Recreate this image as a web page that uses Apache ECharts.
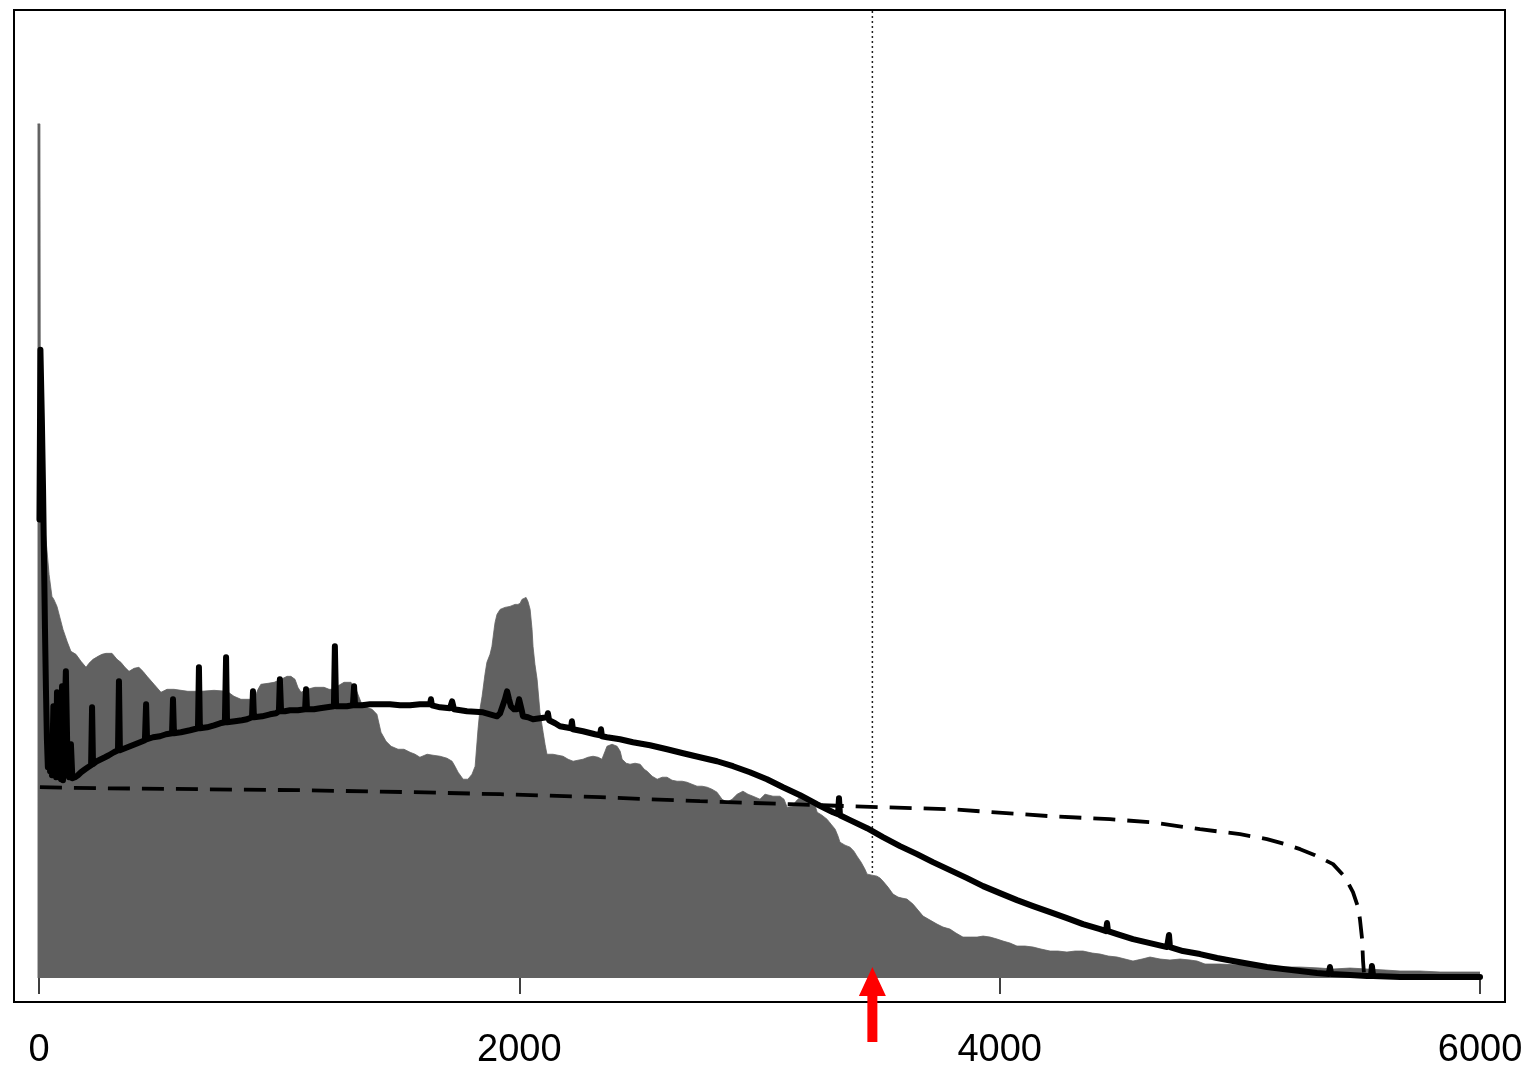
<!DOCTYPE html>
<html>
<head>
<meta charset="utf-8">
<script src="https://cdn.jsdelivr.net/npm/echarts@6/dist/echarts.min.js"></script>
<style>
html,body{margin:0;padding:0;background:#fff;}
#chart{width:1529px;height:1070px;}
</style>
</head>
<body>
<div id="chart"></div>
<script>
// x tick labels
const xTickValues = [0, 2000, 4000, 6000];
// position of the marker (dotted line + red arrow)
const markerX = 3470;

// grey filled profile [x, y]
const greyProfile = [
  [-6,855],[4,855],[6,500],[17,482],[25,449],[33,429],[42,404],[54,382],[62,379],[75,372],[87,361],
  [100,349],[117,337],[133,327],[154,324],[175,317],[196,311],[208,315],[225,319],[246,322],[262,324],
  [279,325],[304,325],[325,319],[341,316],[358,311],[375,307],[396,310],[416,311],[433,307],[450,302],
  [479,294],[508,286],[533,289],[562,289],[620,287],[675,287],[729,288],[783,287],[812,282],[841,279],
  [879,279],[895,279],[912,289],[924,294],[954,295],[979,296],[1008,299],[1033,302],[1049,302],[1066,299],
  [1078,291],[1091,286],[1116,289],[1149,291],[1187,291],[1208,289],[1228,289],[1249,293],[1270,296],
  [1299,296],[1320,289],[1341,276],[1362,271],[1387,269],[1407,264],[1424,246],[1445,237],[1466,232],
  [1495,229],[1520,229],[1545,226],[1566,224],[1586,221],[1616,224],[1641,223],[1670,222],[1699,220],
  [1720,217],[1732,212],[1745,206],[1766,199],[1786,199],[1803,204],[1816,212],[1828,249],[1836,269],
  [1845,282],[1857,304],[1865,316],[1878,324],[1886,332],[1895,349],[1899,356],[1907,364],[1920,369],
  [1940,371],[1961,372],[1982,374],[1994,374],[2003,375],[2011,379],[2019,381],[2028,381],[2036,377],
  [2045,369],[2053,349],[2057,332],[2065,314],[2074,299],[2086,266],[2099,246],[2107,234],[2115,224],
  [2140,224],[2161,223],[2182,222],[2203,219],[2224,217],[2244,218],[2265,219],[2286,221],[2307,222],
  [2328,221],[2344,219],[2357,227],[2365,232],[2386,234],[2407,232],[2420,227],[2428,219],[2445,215],
  [2461,214],[2482,215],[2503,214],[2520,209],[2532,207],[2553,202],[2574,199],[2595,201],[2615,201],
  [2636,198],[2657,197],[2678,197],[2698,196],[2719,194],[2740,192],[2761,192],[2782,191],[2802,189],
  [2823,186],[2844,179],[2865,176],[2886,179],[2907,184],[2931,187],[2952,184],[2973,182],[3002,179],
  [3023,184],[3056,182],[3085,182],[3102,179],[3115,171],[3136,172],[3152,177],[3169,181],[3194,180],
  [3219,179],[3231,173],[3240,166],[3260,163],[3281,159],[3298,154],[3315,149],[3327,142],[3335,136],
  [3356,133],[3377,131],[3393,127],[3406,122],[3423,116],[3439,109],[3448,104],[3468,103],[3489,102],
  [3502,100],[3514,97],[3535,91],[3556,84],[3577,81],[3593,80],[3614,79],[3639,74],[3660,68],[3681,62],
  [3710,58],[3739,54],[3764,51],[3793,49],[3818,45],[3847,41],[3877,41],[3906,41],[3931,42],[3960,41],
  [3989,39],[4014,37],[4043,35],[4072,32],[4106,32],[4139,31],[4172,29],[4210,27],[4243,27],[4280,26],
  [4314,27],[4347,27],[4385,25],[4418,24],[4452,22],[4489,21],[4522,19],[4555,17],[4593,19],[4626,21],
  [4668,19],[4709,18],[4751,19],[4793,18],[4822,17],[4855,14],[4918,14],[5001,13],[5084,12],[5167,11],
  [5251,11],[5334,10],[5388,9],[5459,10],[5530,9],[5605,8],[5667,7],[5750,7],[5834,6],[5917,6],[6000,6]
];

// solid black curve [x, y]
const solidCurve = [
  [2,459],[6,629],[12,559],[17,489],[21,419],[25,349],[29,289],[33,239],[37,211],[42,236],[46,207],
  [50,214],[54,203],[60,272],[67,207],[71,201],[75,286],[81,201],[87,214],[92,199],[96,292],[100,198],
  [106,196],[112,307],[119,214],[125,201],[133,234],[139,200],[150,201],[162,203],[175,206],[192,209],
  [204,211],[217,213],[221,271],[225,214],[241,217],[258,219],[275,221],[291,223],[312,226],[329,228],
  [333,297],[337,228],[358,230],[379,232],[400,234],[421,236],[441,238],[446,274],[450,239],[475,241],
  [504,242],[529,244],[554,245],[558,279],[562,245],[591,246],[629,248],[662,250],[666,311],[670,250],
  [700,251],[729,253],[754,255],[774,256],[779,321],[783,256],[816,257],[845,258],[866,259],[887,261],
  [891,287],[895,261],[929,262],[962,264],[987,265],[999,267],[1003,299],[1008,267],[1024,267],[1045,268],
  [1078,268],[1108,269],[1112,289],[1116,269],[1145,269],[1170,270],[1199,271],[1228,272],[1232,332],
  [1237,272],[1253,272],[1282,272],[1307,273],[1312,292],[1316,273],[1345,273],[1378,274],[1424,274],
  [1461,274],[1503,273],[1545,273],[1586,274],[1628,274],[1632,279],[1636,273],[1670,271],[1711,270],
  [1720,277],[1728,269],[1782,267],[1849,266],[1878,264],[1907,262],[1920,265],[1928,266],[1940,279],
  [1949,287],[1957,279],[1965,272],[1978,269],[1990,269],[1999,279],[2007,281],[2011,267],[2015,262],
  [2036,261],[2057,259],[2086,260],[2115,261],[2119,265],[2124,258],[2149,255],[2169,252],[2215,250],
  [2219,257],[2223,249],[2265,247],[2315,244],[2336,243],[2340,249],[2344,242],[2365,241],[2419,239],
  [2473,236],[2544,233],[2615,229],[2682,225],[2752,221],[2823,217],[2890,212],[2960,206],[3031,199],
  [3098,191],[3169,183],[3239,174],[3306,166],[3327,164],[3331,180],[3335,163],[3377,158],[3448,150],
  [3514,141],[3585,132],[3656,124],[3722,116],[3793,108],[3864,100],[3931,92],[4001,85],[4072,78],
  [4139,72],[4210,66],[4280,60],[4347,54],[4418,49],[4443,47],[4447,55],[4451,47],[4489,44],[4555,39],
  [4626,35],[4697,31],[4701,31],[4705,43],[4709,31],[4763,27],[4834,24],[4905,20],[4972,17],[5042,14],
  [5113,11],[5180,9],[5251,7],[5321,5],[5371,4],[5375,11],[5380,4],[5459,3],[5530,2],[5546,2],[5550,12],
  [5555,2],[5667,1],[5804,1],[5917,1],[6000,1]
];

// dashed black curve [x, y]
const dashedCurve = [
  [4,191],[254,190],[670,189],[1087,188],[1561,186],[1920,184],[2336,181],[2752,177],[3127,174],
  [3377,172],[3793,169],[4210,162],[4459,159],[4626,156],[4834,149],[5001,144],[5113,139],[5188,134],
  [5251,129],[5313,123],[5388,114],[5438,101],[5471,86],[5492,71],[5500,59],[5509,39],[5513,17],[5517,4]
];

const yMin = -24, yMax = 969;

const chart = echarts.init(document.getElementById('chart'), null, {renderer: 'canvas'});
chart.setOption({
  animation: false,
  backgroundColor: '#ffffff',
  grid: {
    left: 14, right: 24, top: 10, bottom: 67,
    show: true, borderColor: '#000', borderWidth: 2, backgroundColor: 'transparent'
  },
  xAxis: {
    type: 'value', min: -104, max: 6104,
    axisLine: {show: false},
    splitLine: {show: false},
    axisTick: {show: true, inside: false, length: 16, customValues: xTickValues,
      lineStyle: {color: '#000', width: 1.5}},
    axisLabel: {show: true, customValues: xTickValues, margin: 30,
      fontSize: 38, color: '#000', fontFamily: 'Liberation Sans, Arial, sans-serif',
      formatter: v => String(v)}
  },
  yAxis: {
    type: 'value', min: yMin, max: yMax, show: false,
    splitLine: {show: false}
  },
  series: [
    {
      name: 'marker line', type: 'line', z: 1, silent: true, showSymbol: false,
      data: [[markerX, 0], [markerX, yMax]],
      lineStyle: {color: '#222', width: 1.5, type: [2, 3]}
    },
    {
      name: 'profile', type: 'line', z: 2, silent: true, showSymbol: false,
      data: greyProfile,
      lineStyle: {color: '#616161', width: 0.8},
      areaStyle: {color: '#616161', opacity: 1, origin: 0}
    },
    {
      name: 'dashed', type: 'line', z: 3, silent: true, showSymbol: false,
      data: dashedCurve,
      lineStyle: {color: '#000', width: 3.8, type: [22, 12]}
    },
    {
      name: 'solid', type: 'line', z: 4, silent: true, showSymbol: false,
      data: solidCurve,
      lineStyle: {color: '#000', width: 6, join: 'round', cap: 'round'}
    },
    {
      name: 'arrow', type: 'custom', z: 5, silent: true, clip: false,
      data: [[markerX, 0]],
      renderItem: function (params, api) {
        const p = api.coord([api.value(0), api.value(1)]);
        const x = p[0], tip = p[1] - 11;
        return {
          type: 'polygon',
          shape: {points: [
            [x, tip], [x + 13.5, tip + 29], [x + 5, tip + 29], [x + 5, tip + 75],
            [x - 5, tip + 75], [x - 5, tip + 29], [x - 13.5, tip + 29]
          ]},
          style: {fill: '#ff0000', stroke: null}
        };
      }
    }
  ]
});
</script>
</body>
</html>
